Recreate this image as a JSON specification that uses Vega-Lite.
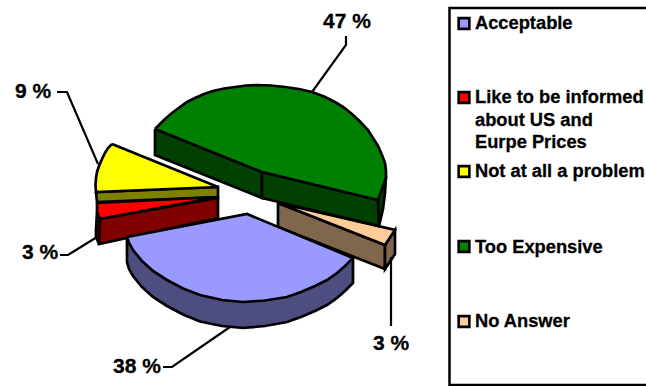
{
  "$schema": "https://vega.github.io/schema/vega-lite/v6.json",
  "width": 646,
  "height": 386,
  "padding": 0,
  "autosize": {"type": "none"},
  "background": "white",
  "config": {"view": {"stroke": null}},
  "datasets": {
    "faces": [
      {"face":"No Answer wall","step":1,"x":278,"y":203},{"face":"No Answer wall","step":2,"x":385,"y":245},{"face":"No Answer wall","step":3,"x":385,"y":269},{"face":"No Answer wall","step":4,"x":278,"y":227},{"face":"No Answer wall","step":5,"x":278,"y":203},
      {"face":"No Answer rim","step":1,"x":385,"y":245},{"face":"No Answer rim","step":2,"x":395,"y":230},{"face":"No Answer rim","step":3,"x":395,"y":254},{"face":"No Answer rim","step":4,"x":385,"y":269},{"face":"No Answer rim","step":5,"x":385,"y":245},
      {"face":"No Answer top","step":1,"x":278,"y":203},{"face":"No Answer top","step":2,"x":395,"y":230},{"face":"No Answer top","step":3,"x":385,"y":245},{"face":"No Answer top","step":4,"x":278,"y":203},

      {"face":"Too Expensive rim","step":1,"x":378,"y":200},{"face":"Too Expensive rim","step":2,"x":386,"y":176},{"face":"Too Expensive rim","step":3,"x":385,"y":193},{"face":"Too Expensive rim","step":4,"x":383,"y":209},{"face":"Too Expensive rim","step":5,"x":379,"y":226},{"face":"Too Expensive rim","step":6,"x":378,"y":200},
      {"face":"Too Expensive wall left","step":1,"x":155,"y":129},{"face":"Too Expensive wall left","step":2,"x":262,"y":172},{"face":"Too Expensive wall left","step":3,"x":262,"y":198},{"face":"Too Expensive wall left","step":4,"x":155,"y":155},{"face":"Too Expensive wall left","step":5,"x":155,"y":129},
      {"face":"Too Expensive wall right","step":1,"x":262,"y":172},{"face":"Too Expensive wall right","step":2,"x":378,"y":200},{"face":"Too Expensive wall right","step":3,"x":379,"y":226},{"face":"Too Expensive wall right","step":4,"x":262,"y":198},{"face":"Too Expensive wall right","step":5,"x":262,"y":172},
      {"face":"Too Expensive top","step":1,"x":155,"y":129},{"face":"Too Expensive top","step":2,"x":160,"y":124},{"face":"Too Expensive top","step":3,"x":165,"y":119},{"face":"Too Expensive top","step":4,"x":172,"y":113},{"face":"Too Expensive top","step":5,"x":180,"y":107},{"face":"Too Expensive top","step":6,"x":187,"y":102},{"face":"Too Expensive top","step":7,"x":195,"y":98},{"face":"Too Expensive top","step":8,"x":204,"y":94},{"face":"Too Expensive top","step":9,"x":213,"y":91},{"face":"Too Expensive top","step":10,"x":224,"y":88.5},{"face":"Too Expensive top","step":11,"x":235,"y":87},{"face":"Too Expensive top","step":12,"x":246,"y":85.5},{"face":"Too Expensive top","step":13,"x":257,"y":85},{"face":"Too Expensive top","step":14,"x":271,"y":85.5},{"face":"Too Expensive top","step":15,"x":285,"y":87},{"face":"Too Expensive top","step":16,"x":299,"y":89},{"face":"Too Expensive top","step":17,"x":312,"y":92},{"face":"Too Expensive top","step":18,"x":324,"y":96.5},{"face":"Too Expensive top","step":19,"x":335,"y":102},{"face":"Too Expensive top","step":20,"x":344,"y":107.5},{"face":"Too Expensive top","step":21,"x":352,"y":114},{"face":"Too Expensive top","step":22,"x":360,"y":121.5},{"face":"Too Expensive top","step":23,"x":368,"y":130},{"face":"Too Expensive top","step":24,"x":373,"y":138},{"face":"Too Expensive top","step":25,"x":378,"y":146},{"face":"Too Expensive top","step":26,"x":382,"y":155},{"face":"Too Expensive top","step":27,"x":385,"y":163},{"face":"Too Expensive top","step":28,"x":386,"y":171},{"face":"Too Expensive top","step":29,"x":386,"y":178},{"face":"Too Expensive top","step":30,"x":378,"y":200},{"face":"Too Expensive top","step":31,"x":262,"y":172},{"face":"Too Expensive top","step":32,"x":155,"y":129},

      {"face":"Not at all a problem wall","step":1,"x":96,"y":192},{"face":"Not at all a problem wall","step":2,"x":218,"y":187},{"face":"Not at all a problem wall","step":3,"x":218,"y":197},{"face":"Not at all a problem wall","step":4,"x":97,"y":202},{"face":"Not at all a problem wall","step":5,"x":96,"y":192},
      {"face":"Not at all a problem top","step":1,"x":112,"y":144},{"face":"Not at all a problem top","step":2,"x":108,"y":148},{"face":"Not at all a problem top","step":3,"x":105,"y":153},{"face":"Not at all a problem top","step":4,"x":102,"y":159},{"face":"Not at all a problem top","step":5,"x":99,"y":166},{"face":"Not at all a problem top","step":6,"x":97,"y":172},{"face":"Not at all a problem top","step":7,"x":96,"y":178},{"face":"Not at all a problem top","step":8,"x":95.5,"y":185},{"face":"Not at all a problem top","step":9,"x":96,"y":192},{"face":"Not at all a problem top","step":10,"x":218,"y":187},{"face":"Not at all a problem top","step":11,"x":112,"y":144},

      {"face":"Like to be informed rim","step":1,"x":97,"y":212},{"face":"Like to be informed rim","step":2,"x":96,"y":230},{"face":"Like to be informed rim","step":3,"x":96,"y":237},{"face":"Like to be informed rim","step":4,"x":99,"y":244},{"face":"Like to be informed rim","step":5,"x":100,"y":219},{"face":"Like to be informed rim","step":6,"x":97,"y":212},
      {"face":"Like to be informed top","step":1,"x":97,"y":203},{"face":"Like to be informed top","step":2,"x":218,"y":197},{"face":"Like to be informed top","step":3,"x":100,"y":219},{"face":"Like to be informed top","step":4,"x":97,"y":212},{"face":"Like to be informed top","step":5,"x":97,"y":203},
      {"face":"Like to be informed wall","step":1,"x":100,"y":219},{"face":"Like to be informed wall","step":2,"x":218,"y":198},{"face":"Like to be informed wall","step":3,"x":218,"y":218},{"face":"Like to be informed wall","step":4,"x":99,"y":244},{"face":"Like to be informed wall","step":5,"x":100,"y":219},

      {"face":"Acceptable wall","step":1,"x":127,"y":237},{"face":"Acceptable wall","step":2,"x":127,"y":262},{"face":"Acceptable wall","step":3,"x":129,"y":269},{"face":"Acceptable wall","step":4,"x":133,"y":276},{"face":"Acceptable wall","step":5,"x":142,"y":287},{"face":"Acceptable wall","step":6,"x":153,"y":297},{"face":"Acceptable wall","step":7,"x":167,"y":306},{"face":"Acceptable wall","step":8,"x":183,"y":314.5},{"face":"Acceptable wall","step":9,"x":200,"y":321.5},{"face":"Acceptable wall","step":10,"x":222,"y":326},{"face":"Acceptable wall","step":11,"x":243,"y":328},{"face":"Acceptable wall","step":12,"x":265,"y":326},{"face":"Acceptable wall","step":13,"x":287,"y":322},{"face":"Acceptable wall","step":14,"x":301,"y":317},{"face":"Acceptable wall","step":15,"x":315,"y":311},{"face":"Acceptable wall","step":16,"x":327,"y":305},{"face":"Acceptable wall","step":17,"x":337,"y":298},{"face":"Acceptable wall","step":18,"x":345,"y":291},{"face":"Acceptable wall","step":19,"x":353,"y":283},{"face":"Acceptable wall","step":20,"x":353,"y":258},{"face":"Acceptable wall","step":21,"x":127,"y":237},
      {"face":"Acceptable top","step":1,"x":127,"y":237},{"face":"Acceptable top","step":2,"x":247,"y":214},{"face":"Acceptable top","step":3,"x":353,"y":258},{"face":"Acceptable top","step":4,"x":345,"y":266},{"face":"Acceptable top","step":5,"x":337,"y":273},{"face":"Acceptable top","step":6,"x":327,"y":280},{"face":"Acceptable top","step":7,"x":315,"y":286},{"face":"Acceptable top","step":8,"x":301,"y":292},{"face":"Acceptable top","step":9,"x":287,"y":297},{"face":"Acceptable top","step":10,"x":265,"y":300.5},{"face":"Acceptable top","step":11,"x":243,"y":302},{"face":"Acceptable top","step":12,"x":222,"y":300},{"face":"Acceptable top","step":13,"x":200,"y":295},{"face":"Acceptable top","step":14,"x":183,"y":288.5},{"face":"Acceptable top","step":15,"x":167,"y":280},{"face":"Acceptable top","step":16,"x":153,"y":271},{"face":"Acceptable top","step":17,"x":142,"y":261},{"face":"Acceptable top","step":18,"x":133,"y":250},{"face":"Acceptable top","step":19,"x":129,"y":243},{"face":"Acceptable top","step":20,"x":127,"y":237}
    ],
    "leaders": [
      {"share":47,"step":1,"x":312,"y":92},{"share":47,"step":2,"x":346,"y":45},{"share":47,"step":3,"x":346,"y":36},
      {"share":9,"step":1,"x":98,"y":164},{"share":9,"step":2,"x":67,"y":92},{"share":9,"step":3,"x":57,"y":92},
      {"share":"3 left","step":1,"x":97,"y":237},{"share":"3 left","step":2,"x":68,"y":255},{"share":"3 left","step":3,"x":60,"y":255},
      {"share":38,"step":1,"x":230,"y":327},{"share":38,"step":2,"x":172,"y":367},{"share":38,"step":3,"x":163,"y":367},
      {"share":"3 right","step":1,"x":391,"y":257},{"share":"3 right","step":2,"x":391,"y":326}
    ],
    "labels": [
      {"label":"47 %","x":347,"y":22},
      {"label":"9 %","x":33,"y":92},
      {"label":"3 %","x":40,"y":253},
      {"label":"38 %","x":137,"y":367},
      {"label":"3 %","x":391,"y":344}
    ],
    "frame": [{"x":449.5,"x2":700,"y":8,"y2":385}],
    "keys": [
      {"category":"Acceptable","x":464,"y":23.5},
      {"category":"Like to be informed","x":464,"y":97.5},
      {"category":"Not at all a problem","x":464,"y":171.5},
      {"category":"Too Expensive","x":464,"y":246.5},
      {"category":"No Answer","x":464,"y":321.5}
    ],
    "keyText": [
      {"text":"Acceptable","x":475,"y":24},
      {"text":"Like to be informed","x":475,"y":98},
      {"text":"about US and","x":475,"y":121},
      {"text":"Eurpe Prices","x":475,"y":143},
      {"text":"Not at all a problem","x":475,"y":172},
      {"text":"Too Expensive","x":475,"y":248},
      {"text":"No Answer","x":475,"y":322}
    ]
  },
  "encoding": {
    "x": {"field":"x","type":"quantitative","scale":{"domain":[0,646],"nice":false,"zero":false},"axis":null},
    "y": {"field":"y","type":"quantitative","scale":{"domain":[386,0],"nice":false,"zero":false},"axis":null}
  },
  "layer": [
    {
      "data": {"name":"frame"},
      "mark": {"type":"rect","fill":"white","stroke":"black","strokeWidth":2.5},
      "encoding": {"x2":{"field":"x2"},"y2":{"field":"y2"}}
    },
    {
      "data": {"name":"faces"},
      "mark": {"type":"line","filled":true,"stroke":"black","strokeWidth":2.7,"strokeJoin":"miter","interpolate":"linear"},
      "encoding": {
        "order": {"field":"step","type":"quantitative"},
        "detail": {"field":"face"},
        "fill": {
          "field":"face","type":"nominal","legend":null,"sort":null,
          "scale":{
            "domain":["No Answer wall","No Answer rim","No Answer top","Too Expensive rim","Too Expensive wall left","Too Expensive wall right","Too Expensive top","Not at all a problem wall","Not at all a problem top","Like to be informed rim","Like to be informed top","Like to be informed wall","Acceptable wall","Acceptable top"],
            "range":["#80664d","#80664d","#ffcc99","#004000","#004000","#004000","#008000","#808000","#ffff00","#800000","#ff0000","#800000","#4d4d80","#9999ff"]
          }
        }
      }
    },
    {
      "data": {"name":"leaders"},
      "mark": {"type":"line","stroke":"black","strokeWidth":2.2,"interpolate":"linear"},
      "encoding": {"order":{"field":"step","type":"quantitative"},"detail":{"field":"share"}}
    },
    {
      "data": {"name":"labels"},
      "mark": {"type":"text","font":"Liberation Sans","fontWeight":"bold","fontSize":21,"align":"center","baseline":"middle","fill":"black","stroke":"black","strokeWidth":0.3},
      "encoding": {"text":{"field":"label"}}
    },
    {
      "data": {"name":"keys"},
      "mark": {"type":"point","shape":"square","filled":true,"size":115,"stroke":"black","strokeWidth":2.6,"opacity":1},
      "encoding": {
        "fill": {
          "field":"category","type":"nominal","legend":null,
          "scale":{"domain":["Acceptable","Like to be informed","Not at all a problem","Too Expensive","No Answer"],"range":["#9999ff","#ff0000","#ffff00","#008000","#ffcc99"]}
        }
      }
    },
    {
      "data": {"name":"keyText"},
      "mark": {"type":"text","font":"Liberation Sans","fontWeight":"bold","fontSize":18.3,"align":"left","baseline":"middle","fill":"black","stroke":"black","strokeWidth":0.3},
      "encoding": {"text":{"field":"text"}}
    }
  ],
  "resolve": {"scale":{"fill":"independent"}}
}
